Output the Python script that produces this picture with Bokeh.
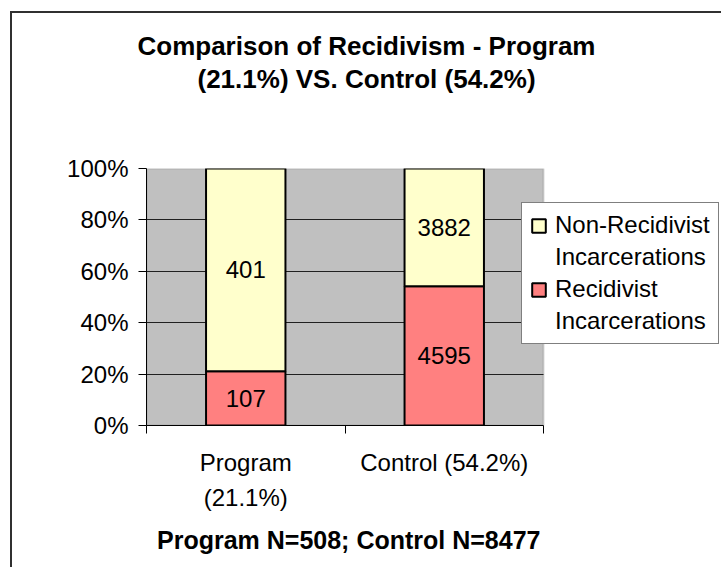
from bokeh.plotting import figure
from bokeh.models import (Range1d, FixedTicker, NumeralTickFormatter, Title,
                          Legend, LegendItem, ColumnDataSource, BoxAnnotation)
from bokeh.core.properties import value
from bokeh.embed import file_html
from bokeh.resources import INLINE

# ---- data ----
categories = ["Program\n(21.1%)", "Control (54.2%)"]
recidivist = [107, 4595]
non_recidivist = [401, 3882]
series_names = ["Non-Recidivist", "Recidivist"]
series_suffix = "Incarcerations"
title_lines = ["Comparison of Recidivism - Program", "(21.1%) VS. Control (54.2%)"]
x_title = "Program N=508; Control N=8477"
y_ticks = [0, 0.2, 0.4, 0.6, 0.8, 1.0]

FONT = "Liberation Sans"

totals = [r + n for r, n in zip(recidivist, non_recidivist)]
rec_frac = [r / t for r, t in zip(recidivist, totals)]
full = [(r + n) / t for r, n, t in zip(recidivist, non_recidivist, totals)]
xs = [i + 0.5 for i in range(len(categories))]
bounds = [float(i) for i in range(len(categories) + 1)]

src = ColumnDataSource(dict(
    x=xs,
    rec_top=rec_frac,
    full=full,
    rec_mid=[f / 2 for f in rec_frac],
    non_mid=[(f + t) / 2 for f, t in zip(rec_frac, full)],
    rec_lbl=[str(v) for v in recidivist],
    non_lbl=[str(v) for v in non_recidivist],
))

# layout (pixels): plot area 397 px wide; the frame runs on to the right edge
W, H = 711, 556
LEFT, TOP, BOTTOM = 134, 155, 144
AREA_W = 397
frame_w = W - LEFT
x_end = bounds[-1] * frame_w / AREA_W

p = figure(width=W, height=H, x_range=Range1d(bounds[0], x_end),
           y_range=Range1d(y_ticks[0], y_ticks[-1]), output_backend="svg",
           toolbar_location=None, min_border_left=LEFT, min_border_right=0,
           min_border_top=TOP, min_border_bottom=BOTTOM)
p.title.text = ""
p.title.visible = False
p.background_fill_color = "white"
p.border_fill_color = "white"
p.outline_line_color = None
p.styles = {"border-left": "2px solid #303030", "border-top": "2px solid #303030",
            "margin-left": "10px", "margin-top": "11px"}

# grey plot area
p.add_layout(BoxAnnotation(left=bounds[0], right=bounds[-1], bottom=y_ticks[0],
                           top=y_ticks[-1], fill_color="#C0C0C0", fill_alpha=1,
                           line_color="#808080", line_width=2, level="image"))

# grid
p.xgrid.visible = False
yg = p.ygrid[0]
yg.ticker = FixedTicker(ticks=[t for t in y_ticks if y_ticks[0] < t < y_ticks[-1]])
yg.grid_line_color = "#202020"
yg.grid_line_width = 1
if "cross_bounds" in yg.properties():
    yg.cross_bounds = (bounds[0], bounds[-1])
else:
    yg.visible = False
    gy = [t for t in y_ticks if y_ticks[0] < t < y_ticks[-1]]
    p.segment(x0=[bounds[0]] * len(gy), x1=[bounds[-1]] * len(gy), y0=gy, y1=gy,
              line_color="#202020", line_width=1, level="underlay")

# y axis
ya = p.yaxis[0]
ya.ticker = FixedTicker(ticks=y_ticks)
ya.formatter = NumeralTickFormatter(format="0%")
ya.major_tick_out = 8
ya.major_tick_in = 0
ya.minor_tick_line_color = None
ya.axis_line_color = "black"
ya.major_tick_line_color = "black"
ya.major_label_text_font = FONT
ya.major_label_text_font_size = "24px"
ya.major_label_text_color = "black"
ya.major_label_standoff = 10

# x axis
xa = p.xaxis[0]
xa.bounds = (bounds[0], bounds[-1])
xa.ticker = FixedTicker(ticks=xs, minor_ticks=bounds)
xa.major_label_overrides = {x: c for x, c in zip(xs, categories)}
xa.major_tick_line_color = None
xa.major_tick_out = 0
xa.major_tick_in = 0
xa.minor_tick_out = 8
xa.minor_tick_in = 0
xa.minor_tick_line_color = "black"
xa.axis_line_color = "black"
xa.major_label_text_font = FONT
xa.major_label_text_font_size = "24px"
xa.major_label_text_color = "black"
xa.major_label_text_line_height = 1.3
xa.major_label_standoff = 15

# bars
r_rec = p.vbar(x="x", bottom=0, top="rec_top", width=0.4, source=src,
               fill_color="#FF8080", line_color="black", line_width=2)
r_non = p.vbar(x="x", bottom="rec_top", top="full", width=0.4, source=src,
               fill_color="#FFFFCC", line_color="black", line_width=2)

for ycol, tcol in (("rec_mid", "rec_lbl"), ("non_mid", "non_lbl")):
    p.text(x="x", y=ycol, text=tcol, source=src, text_align="center",
           text_baseline="middle", text_font=value(FONT), text_font_size="24px",
           text_color="black")

# legend: second label line carried by a swatch-less entry
blank = p.scatter(x=[], y=[], fill_alpha=0, line_alpha=0)
legend = Legend(items=[LegendItem(label=series_names[0], renderers=[r_non]),
                       LegendItem(label=series_suffix, renderers=[blank]),
                       LegendItem(label=series_names[1], renderers=[r_rec]),
                       LegendItem(label=series_suffix, renderers=[blank])],
                location=(375, 81))
legend.label_text_font = FONT
legend.label_text_font_size = "24px"
legend.label_text_color = "black"
legend.glyph_width = 17
legend.glyph_height = 17
legend.label_standoff = 8
legend.padding = 8
legend.spacing = 4
legend.margin = 0
legend.border_line_color = "black"
legend.border_line_width = 1
legend.background_fill_color = "white"
legend.background_fill_alpha = 1
p.add_layout(legend)

# titles: spacer closest to the plot, then line 2, then line 1
common = dict(text_font=FONT, text_font_size="26px", text_font_style="bold",
              text_color="black", align="left", vertical_align="middle", standoff=1)
spacer = Title(text=" ", align="left", vertical_align="middle", standoff=60,
               text_font=FONT, text_font_size="10px", text_color="white")
t2 = Title(text=title_lines[1], offset=51, **common)
t1 = Title(text=title_lines[0], offset=-9, **common)
p.add_layout(spacer, "above")
p.add_layout(t2, "above")
p.add_layout(t1, "above")

# x axis title below the category labels
p.add_layout(Title(text=x_title, offset=10.5, align="left", vertical_align="middle",
                   standoff=22, text_font=FONT, text_font_size="25px",
                   text_font_style="bold", text_color="black"), "below")

open("out.html", "w").write(file_html(p, INLINE))
